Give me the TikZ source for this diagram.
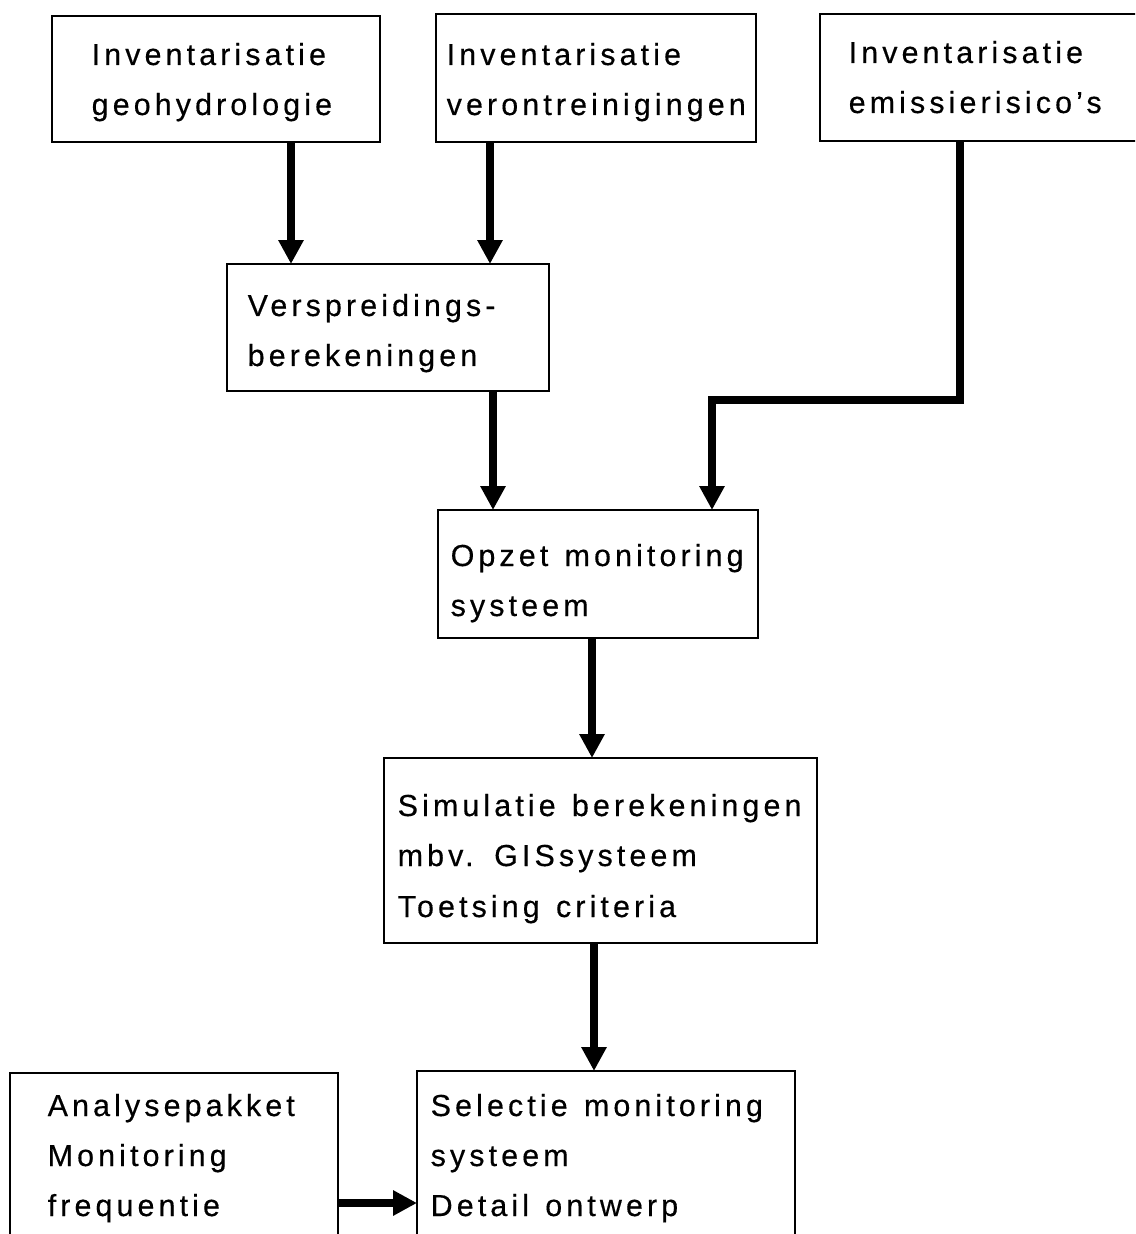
\documentclass[tikz,border=0pt]{standalone}
\usepackage{fontspec}
\setmainfont[LetterSpace=13.5,WordSpace=1.3,FakeBold=0.4]{Liberation Sans}
\usetikzlibrary{arrows.meta}
\begin{document}
\begin{tikzpicture}[x=0.01cm,y=-0.01cm,
  box/.style={draw,line width=0.7pt,inner sep=0pt,outer sep=0pt,anchor=north west},
  txt/.style={anchor=base west,inner sep=0pt,font=\fontsize{8.65pt}{14.2pt}\selectfont},
  arr/.style={line width=2.3pt,-{Triangle[width=6.8pt,length=6.8pt]}}]
\useasboundingbox (0,0) rectangle (1135,1234);
\clip (0,0) rectangle (1135,1234);
\fill[white] (0,0) rectangle (1135,1234);
% boxes
\node[box,minimum width=3.28cm,minimum height=1.26cm] (b1) at (52,16) {};
\node[box,minimum width=3.20cm,minimum height=1.28cm] (b2) at (436,14) {};
\node[box,minimum width=3.30cm,minimum height=1.27cm] (b3) at (820,14) {};
\node[box,minimum width=3.22cm,minimum height=1.27cm] (b4) at (227,264) {};
\node[box,minimum width=3.20cm,minimum height=1.28cm] (b5) at (438,510) {};
\node[box,minimum width=4.33cm,minimum height=1.85cm] (b6) at (384,758) {};
\node[box,minimum width=3.28cm,minimum height=1.90cm] (b7) at (10,1073) {};
\node[box,minimum width=3.78cm,minimum height=1.90cm] (b8) at (417,1071) {};
% texts
\node[txt] (t1a) at (91,65) {Inventarisatie};
\node[txt] (t1b) at (91,115) {geohydrologie};
\node[txt] (t2a) at (446,65) {Inventarisatie};
\node[txt] (t2b) at (446,115) {verontreinigingen};
\node[txt] (t3a) at (848,63) {Inventarisatie};
\node[txt] (t3b) at (848,113) {emissierisico's};
\node[txt] (t4a) at (247,316) {Verspreidings-};
\node[txt] (t4b) at (247,366) {berekeningen};
\node[txt] (t5a) at (450,566) {Opzet monitoring};
\node[txt] (t5b) at (450,616) {systeem};
\node[txt] (t6a) at (397,816) {Simulatie berekeningen};
\node[txt] (t6b) at (397,866) {mbv. GISsysteem};
\node[txt] (t6c) at (397,917) {Toetsing criteria};
\node[txt] (t7a) at (47,1116) {Analysepakket};
\node[txt] (t7b) at (47,1166) {Monitoring};
\node[txt] (t7c) at (47,1216) {frequentie};
\node[txt] (t8a) at (430,1116) {Selectie monitoring};
\node[txt] (t8b) at (430,1166) {systeem};
\node[txt] (t8c) at (430,1216) {Detail ontwerp};
% connectors
\coordinate (bend) at (712,400);
\draw[arr] (b1.south -| 291,0) -- (b4.north -| 291,0);
\draw[arr] (b2.south -| 490,0) -- (b4.north -| 490,0);
\draw[arr] (b4.south -| 493,0) -- (b5.north -| 493,0);
\draw[arr] (b3.south -| 960,0) |- (bend) -- (b5.north -| bend);
\draw[arr] (b5.south -| 592,0) -- (b6.north -| 592,0);
\draw[arr] (b6.south -| 594,0) -- (b8.north -| 594,0);
\draw[arr] (b7.east |- 0,1203) -- (b8.west |- 0,1203);
\end{tikzpicture}
\end{document}
